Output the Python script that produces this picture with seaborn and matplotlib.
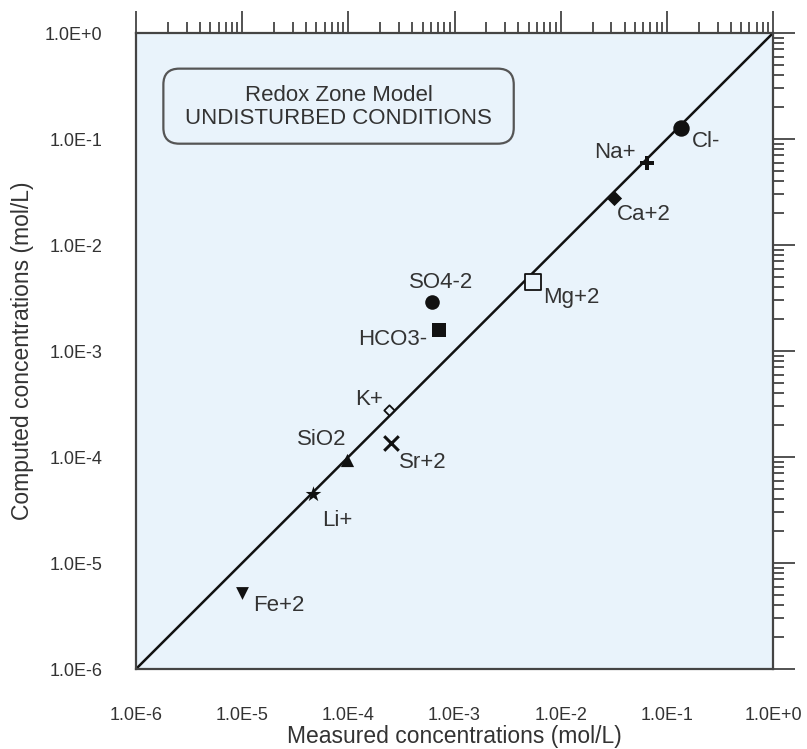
import matplotlib
matplotlib.use("Agg")
import matplotlib.pyplot as plt
import pandas as pd
import seaborn as sns
from matplotlib.patches import FancyBboxPatch
from matplotlib.ticker import FixedLocator, LogLocator, NullFormatter

# Major ions: measured vs. computed concentrations (mol/L)
ions = ["Cl-", "Na+", "Ca+2", "Mg+2", "SO4-2", "HCO3-", "K+", "Sr+2", "SiO2", "Li+", "Fe+2"]
measured = [1.36e-1, 6.5e-2, 3.2e-2, 5.5e-3, 6.1e-4, 7.1e-4, 2.4e-4, 2.5e-4, 9.7e-5, 4.6e-5, 1.0e-5]
computed = [1.27e-1, 5.9e-2, 2.8e-2, 4.5e-3, 2.9e-3, 1.58e-3, 2.8e-4, 1.35e-4, 9.4e-5, 4.5e-5, 5.2e-6]

decades = [1e-6, 1e-5, 1e-4, 1e-3, 1e-2, 1e-1, 1e0]
decade_labels = ["1.0E-6", "1.0E-5", "1.0E-4", "1.0E-3", "1.0E-2", "1.0E-1", "1.0E+0"]

x_title = "Measured concentrations (mol/L)"
y_title = "Computed concentrations (mol/L)"
box_title = "Redox Zone Model"
box_subtitle = "UNDISTURBED CONDITIONS"

df = pd.DataFrame({"ion": ions, "measured": measured, "computed": computed})

# marker, size, filled, line width
styles = {
    "Cl-":   ("o", 140, True, 0),
    "Na+":   ("P", 110, True, 0),
    "Ca+2":  ("D", 60, True, 0),
    "Mg+2":  ("s", 120, False, 1.3),
    "SO4-2": ("o", 110, True, 0),
    "HCO3-": ("s", 100, True, 0),
    "K+":    ("D", 28, False, 1.3),
    "Sr+2":  ("x", 110, True, 2.2),
    "SiO2":  ("^", 90, True, 0),
    "Li+":   ("*", 140, True, 0),
    "Fe+2":  ("v", 85, True, 0),
}

# label placement: offset in points, horizontal alignment
label_pos = {
    "Cl-":   ((8, -10), "left"),
    "Na+":   ((-8, 8), "right"),
    "Ca+2":  ((2, -12), "left"),
    "Mg+2":  ((7, -11), "left"),
    "SO4-2": ((7, 14), "center"),
    "HCO3-": ((-8, -7), "right"),
    "K+":    ((-4, 7), "right"),
    "Sr+2":  ((6, -14), "left"),
    "SiO2":  ((0, 15), "right"),
    "Li+":   ((7, -19), "left"),
    "Fe+2":  ((8, -9), "left"),
}

sns.set_theme(style="white")
plt.rcParams["font.family"] = ["Liberation Sans", "DejaVu Sans"]

ink = "#111111"
text_col = "#333333"
panel = "#E9F3FB"

fig = plt.figure(figsize=(8.07, 7.49), dpi=100)
ax = fig.add_axes([0.1685, 0.1068, 0.7894, 0.8491])
ax.set_facecolor(panel)

ax.set_xscale("log")
ax.set_yscale("log")
ax.set_xlim(1e-6, 1e0)
ax.set_ylim(1e-6, 1e0)

# 1:1 line
sns.lineplot(x=[decades[0], decades[-1]], y=[decades[0], decades[-1]],
             ax=ax, color=ink, linewidth=1.8, zorder=2)

for ion in ions:
    marker, size, filled, lw = styles[ion]
    sub = df[df["ion"] == ion]
    if marker == "x":
        sns.scatterplot(data=sub, x="measured", y="computed", ax=ax, marker=marker,
                        s=size, color=ink, linewidth=lw, zorder=3, legend=False)
    elif filled:
        sns.scatterplot(data=sub, x="measured", y="computed", ax=ax, marker=marker,
                        s=size, color=ink, edgecolor=ink, linewidth=lw, zorder=3, legend=False)
    else:
        sns.scatterplot(data=sub, x="measured", y="computed", ax=ax, marker=marker,
                        s=size, facecolor=panel, edgecolor=ink, linewidth=lw, zorder=3, legend=False)
    (dx, dy), ha = label_pos[ion]
    ax.annotate(ion, (sub["measured"].iloc[0], sub["computed"].iloc[0]),
                xytext=(dx, dy), textcoords="offset points", ha=ha, va="center",
                fontsize=16, color=text_col, zorder=4)

ax.set_xlabel(x_title, fontsize=16.5, color=text_col, labelpad=1)
ax.set_ylabel(y_title, fontsize=16.5, color=text_col, labelpad=8)

for axis in (ax.xaxis, ax.yaxis):
    axis.set_major_locator(FixedLocator(decades))
    axis.set_minor_locator(LogLocator(base=10, subs=range(2, 10), numticks=20))
    axis.set_minor_formatter(NullFormatter())
ax.set_xticklabels(decade_labels)
ax.set_yticklabels(decade_labels)

ax.tick_params(which="both", direction="out", top=True, right=True,
               color="#444444", width=1.3)
ax.tick_params(which="major", length=16, labelsize=13, labelcolor=text_col)
ax.tick_params(axis="x", which="major", pad=11)
ax.tick_params(axis="y", which="major", pad=8)
ax.tick_params(which="minor", length=8)

for sp in ax.spines.values():
    sp.set_color("#444444")
    sp.set_linewidth(1.6)

# rounded title box with centred two-line caption
box_x, box_y, box_w, box_h = 0.043, 0.826, 0.55, 0.118
box = FancyBboxPatch((box_x, box_y), box_w, box_h, transform=ax.transAxes,
                     boxstyle="round,pad=0,rounding_size=0.025",
                     facecolor=panel, edgecolor="#555555", linewidth=1.6, zorder=5)
ax.add_patch(box)
cx = box_x + box_w / 2
ax.text(cx, 0.902, box_title, transform=ax.transAxes,
        ha="center", va="center", fontsize=16, color=text_col, zorder=6)
ax.text(cx, 0.866, box_subtitle, transform=ax.transAxes,
        ha="center", va="center", fontsize=16, color=text_col, zorder=6)

fig.savefig("out.png", dpi=100, facecolor="white")
